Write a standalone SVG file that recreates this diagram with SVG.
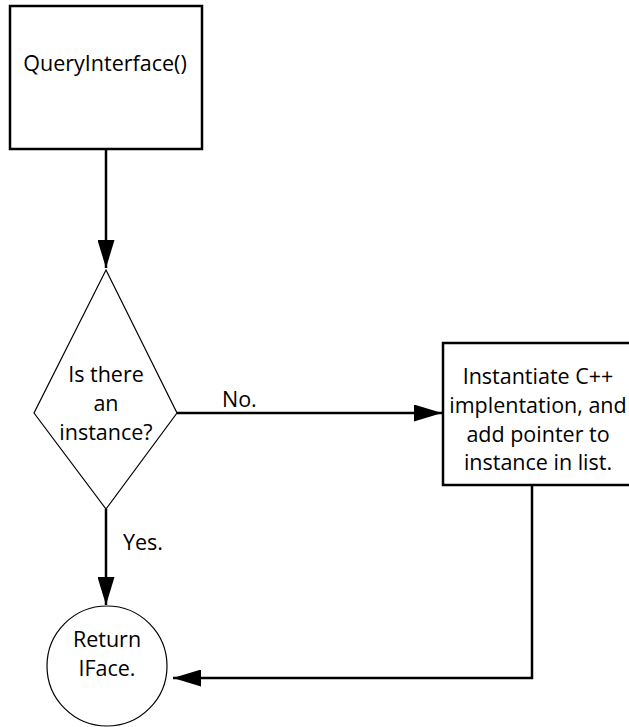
<svg xmlns="http://www.w3.org/2000/svg" width="629" height="727" viewBox="0 0 629 727">
  <defs>
    <style>
      .box { fill: #fff; stroke: #000; stroke-width: 2.5; }
      .thin { fill: #fff; stroke: #000; stroke-width: 1.2; }
      .edge { fill: none; stroke: #000; stroke-width: 2.5; }
      text { font-family: "Open Sans", "Liberation Sans", sans-serif; font-size: 21.5px; fill: #000; }
      .c { text-anchor: middle; }
    </style>
    <marker id="arrow" markerUnits="userSpaceOnUse" markerWidth="28" markerHeight="17" refX="28" refY="8.5" orient="auto">
      <path d="M0,0 L28,8.5 L0,17 Z" fill="#000"/>
    </marker>
  </defs>

  <g id="connectors">
    <line class="edge" x1="106" y1="149" x2="106" y2="268" marker-end="url(#arrow)"/>
    <line class="edge" x1="177" y1="413" x2="442" y2="413" marker-end="url(#arrow)"/>
    <line class="edge" x1="106" y1="509" x2="106" y2="605" marker-end="url(#arrow)"/>
    <polyline class="edge" points="532,485 532,678 173,678" marker-end="url(#arrow)"/>
    <text x="222" y="407">No.</text>
    <text x="123" y="550">Yes.</text>
  </g>

  <g id="query-interface">
    <rect class="box" x="10" y="6" width="192" height="143"/>
    <text class="c" x="105" y="71">QueryInterface()</text>
  </g>

  <g id="is-instance">
    <path class="thin" d="M106,270 L177,413 L106,509 L34,413 Z"/>
    <text class="c" x="106" y="382">Is there</text>
    <text class="c" x="106" y="411">an</text>
    <text class="c" x="106" y="440">instance?</text>
  </g>

  <g id="instantiate">
    <rect class="box" x="443" y="343" width="200" height="142"/>
    <text class="c" x="538" y="384">Instantiate C++</text>
    <text class="c" x="538" y="413">implentation, and</text>
    <text class="c" x="538" y="442">add pointer to</text>
    <text class="c" x="538" y="470">instance in list.</text>
  </g>

  <g id="return-iface">
    <circle class="thin" cx="107" cy="666" r="60"/>
    <text class="c" x="107" y="647">Return</text>
    <text class="c" x="107" y="676">IFace.</text>
  </g>
</svg>
